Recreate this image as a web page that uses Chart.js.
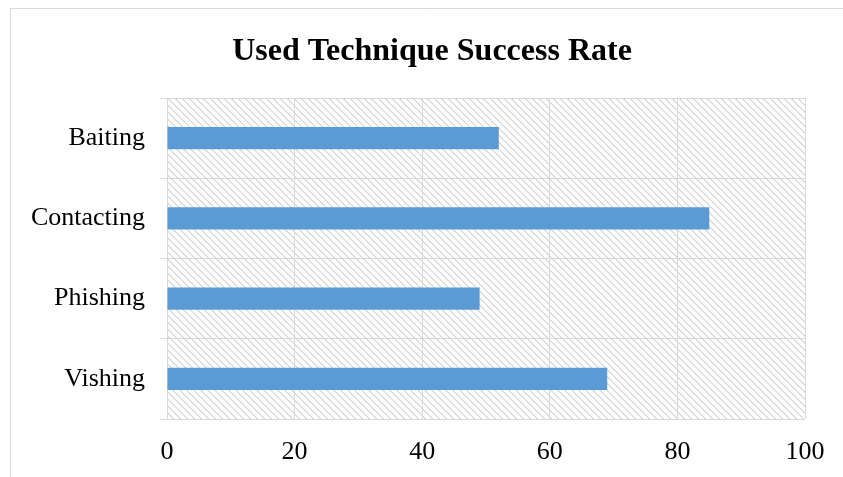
<!DOCTYPE html>
<html>
<head>
<meta charset="utf-8">
<script src="https://cdn.jsdelivr.net/npm/chart.js@4"></script>
<style>
  html, body { margin: 0; padding: 0; background: #fff; }
  #wrap { width: 843px; height: 477px; position: relative; }
</style>
</head>
<body>
<div id="wrap"><canvas id="myChart" width="843" height="477"></canvas></div>
<script>
// chart data
const chartTitle = 'Used Technique Success Rate';
const techniques = ['Baiting', 'Contacting', 'Phishing', 'Vishing'];
const successRates = [52, 85, 49, 69];
const xTicks = [0, 20, 40, 60, 80, 100];

const gridColor = '#D9D9D9';
const fontFamily = '"Liberation Serif", "Times New Roman", serif';

// diagonal hatch tile, like the Excel plot area fill
function makeHatch() {
    const n = 7;
    const tile = document.createElement('canvas');
    tile.width = n;
    tile.height = n;
    const c = tile.getContext('2d');
    c.fillStyle = '#ffffff';
    c.fillRect(0, 0, n, n);
    for (let x = 0; x < n; x++) {
        c.fillStyle = '#D4D4D4';
        c.fillRect(x, x, 1, 1);
        c.fillStyle = '#E6E6E6';
        c.fillRect(x, (x + 1) % n, 1, 1);
    }
    return c.createPattern(tile, 'repeat');
}

const backdrop = {
    id: 'backdrop',
    beforeDraw(chart) {
        const ctx = chart.ctx;
        const a = chart.chartArea;
        ctx.save();
        // outer frame (top and left edges only are visible)
        ctx.strokeStyle = gridColor;
        ctx.lineWidth = 1;
        ctx.beginPath();
        ctx.moveTo(10.5, 477);
        ctx.lineTo(10.5, 8.5);
        ctx.lineTo(843, 8.5);
        ctx.stroke();
        // hatched plot area
        ctx.fillStyle = makeHatch();
        ctx.fillRect(a.left, a.top, a.right - a.left, a.bottom - a.top);
        // title, centred on the frame rather than the plot
        ctx.fillStyle = '#000';
        ctx.font = 'bold 32px ' + fontFamily;
        ctx.textAlign = 'center';
        ctx.textBaseline = 'alphabetic';
        ctx.fillText(chartTitle, 432, 60);
        ctx.restore();
    }
};

let ctx = document.getElementById('myChart').getContext('2d');
let myChart = new Chart(ctx, {
    type: 'bar',
    data: {
        labels: techniques,
        datasets: [{
            label: 'Success rate',
            data: successRates,
            backgroundColor: '#5B9BD5',
            borderWidth: 0,
            barPercentage: 0.28,
            categoryPercentage: 1
        }]
    },
    options: {
        indexAxis: 'y',
        responsive: false,
        animation: false,
        layout: {
            padding: { top: 98, right: 38, bottom: 0, left: 0 }
        },
        scales: {
            x: {
                min: 0,
                max: 100,
                afterBuildTicks: (scale) => {
                    scale.ticks = xTicks.map(v => ({ value: v }));
                },
                afterFit: (scale) => { scale.height = 58; },
                grid: {
                    color: gridColor,
                    lineWidth: 1,
                    drawTicks: false
                },
                border: { display: false },
                ticks: {
                    padding: 18,
                    color: '#000',
                    font: { family: fontFamily, size: 26 }
                }
            },
            y: {
                afterFit: (scale) => { scale.width = 167; },
                grid: {
                    color: gridColor,
                    lineWidth: 1,
                    drawTicks: true,
                    tickLength: 7
                },
                border: { display: false },
                ticks: {
                    padding: 15,
                    color: '#000',
                    font: { family: fontFamily, size: 26 }
                }
            }
        },
        plugins: {
            legend: { display: false },
            tooltip: { enabled: false },
            title: { display: false }
        }
    },
    plugins: [backdrop]
});
</script>
</body>
</html>
